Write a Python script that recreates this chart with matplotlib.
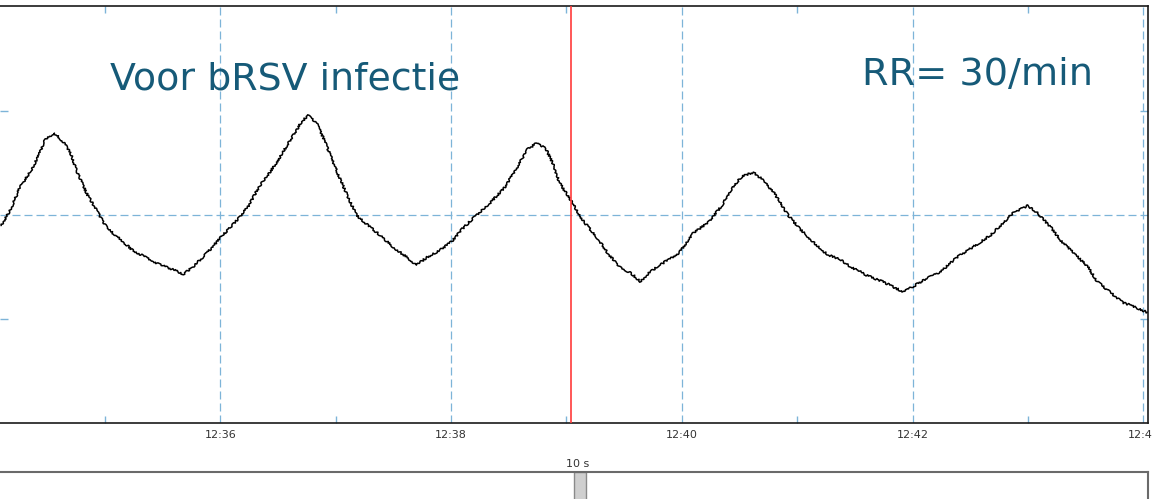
import numpy as np
import matplotlib.pyplot as plt
from matplotlib.patches import Rectangle
from matplotlib.ticker import FixedLocator

# breathing trace (time in s, signal in arbitrary units)
t = [34.10, 34.18, 34.26, 34.36, 34.42, 34.48, 34.56, 34.64, 34.70, 34.76,
     34.84, 34.94, 35.02, 35.14, 35.24, 35.36, 35.48, 35.60, 35.68, 35.76,
     35.88, 36.00, 36.12, 36.24, 36.34, 36.46, 36.54, 36.60, 36.70, 36.76,
     36.84, 36.90, 36.98, 37.04, 37.12, 37.18, 37.28, 37.38, 37.50, 37.62,
     37.70, 37.80, 37.90, 38.00, 38.10, 38.22, 38.34, 38.46, 38.54, 38.66,
     38.74, 38.82, 38.88, 38.94, 39.06, 39.14, 39.26, 39.36, 39.46, 39.56,
     39.64, 39.72, 39.84, 39.98, 40.10, 40.22, 40.34, 40.44, 40.52, 40.62,
     40.70, 40.80, 40.92, 41.02, 41.14, 41.26, 41.38, 41.46, 41.54, 41.60,
     41.74, 41.92, 42.00, 42.12, 42.24, 42.38, 42.52, 42.68, 42.78, 42.88,
     43.00, 43.08, 43.20, 43.28, 43.40, 43.52, 43.60, 43.72, 43.82, 43.94,
     44.04]
signal = [-0.10, 0.05, 0.26, 0.43, 0.56, 0.72, 0.79, 0.70, 0.60, 0.41,
          0.21, 0.02, -0.13, -0.24, -0.34, -0.41, -0.48, -0.53, -0.57, -0.50,
          -0.37, -0.22, -0.08, 0.08, 0.28, 0.46, 0.60, 0.71, 0.89, 0.96,
          0.87, 0.72, 0.50, 0.34, 0.14, 0.00, -0.10, -0.19, -0.31, -0.41,
          -0.48, -0.40, -0.34, -0.26, -0.13, 0.00, 0.12, 0.26, 0.40, 0.63,
          0.69, 0.64, 0.50, 0.31, 0.10, -0.05, -0.21, -0.37, -0.50, -0.56,
          -0.64, -0.55, -0.46, -0.36, -0.17, -0.08, 0.08, 0.27, 0.37, 0.41,
          0.34, 0.21, 0.00, -0.13, -0.26, -0.38, -0.43, -0.50, -0.54, -0.58,
          -0.64, -0.74, -0.69, -0.61, -0.55, -0.41, -0.31, -0.19, -0.08, 0.03,
          0.09, 0.02, -0.12, -0.24, -0.37, -0.50, -0.64, -0.75, -0.84, -0.89,
          -0.94]

major_ticks = [36, 38, 40, 42, 44]
major_labels = ['12:36', '12:38', '12:40', '12:42', '12:44']
minor_ticks = [35, 37, 39, 41, 43]
y_minor = [-1, 1]
cursor_t = 39.04
thumb_t = [39.06, 39.16]

grid_col = '#7db4d8'
text_col = '#165a78'

fig = plt.figure(figsize=(11.52, 4.99), dpi=100)
ax = fig.add_axes([0.0, 0.1523, 0.9965, 0.8357])

line, = ax.plot(t, signal, color='black', lw=1.1)
line.set_sketch_params(scale=1.0, length=0.8, randomness=2)

ax.set_xlim(34.09, 44.04)
ax.set_ylim(-2.0, 2.01)

ax.xaxis.set_major_locator(FixedLocator(major_ticks))
ax.set_xticklabels(major_labels)
ax.xaxis.set_minor_locator(FixedLocator(minor_ticks))
ax.yaxis.set_major_locator(FixedLocator([0]))
ax.yaxis.set_minor_locator(FixedLocator(y_minor))
ax.set_yticklabels([])

ax.tick_params(axis='x', which='both', direction='in', top=True, bottom=True,
               color=grid_col, labelsize=8, labelcolor='#333333', pad=5)
ax.tick_params(axis='x', which='major', length=0)
ax.tick_params(axis='x', which='minor', length=5, width=1)
ax.tick_params(axis='y', which='both', direction='in', left=True, right=True,
               color=grid_col, length=6, width=1)
ax.tick_params(axis='y', which='major', length=0)

ax.grid(True, which='major', color=grid_col, lw=0.9, ls=(0, (6.4, 3.2)))
for gl in ax.get_xgridlines() + ax.get_ygridlines():
    gl.set_snap(True)

for side in ['top', 'bottom', 'right']:
    ax.spines[side].set_color('#1a1a1a')
    ax.spines[side].set_linewidth(1.2)
ax.spines['left'].set_visible(False)

ax.axvline(cursor_t, color='#ff3b3b', lw=1.2, zorder=3)

ax.text(0.0958, 0.7986, 'Voor bRSV infectie', transform=ax.transAxes,
        fontsize=27.3, color=text_col, ha='left', va='baseline')
ax.text(0.751, 0.81, 'RR= 30/min', transform=ax.transAxes,
        fontsize=27.5, color=text_col, ha='left', va='baseline')

# scroll bar panel below
ax2 = fig.add_axes([-0.01, -0.1, 1.0065, 0.1541])
ax2.set_xlim(34.09 - 0.0115 * 9.95, 44.04)
ax2.set_ylim(0, 1)
ax2.set_xticks([])
ax2.set_yticks([])
for s in ax2.spines.values():
    s.set_color('#6a6a6a')
    s.set_linewidth(1.5)
ax2.add_patch(Rectangle((thumb_t[0], 0), thumb_t[1] - thumb_t[0], 1.0,
                        facecolor='#cfcfcf', edgecolor='#8a8a8a', lw=1.0))
fig.text(578 / 1152, 1 - 464 / 499, '10 s', fontsize=8, color='#333333',
         ha='center', va='center')

fig.savefig('out.png', dpi=100)
